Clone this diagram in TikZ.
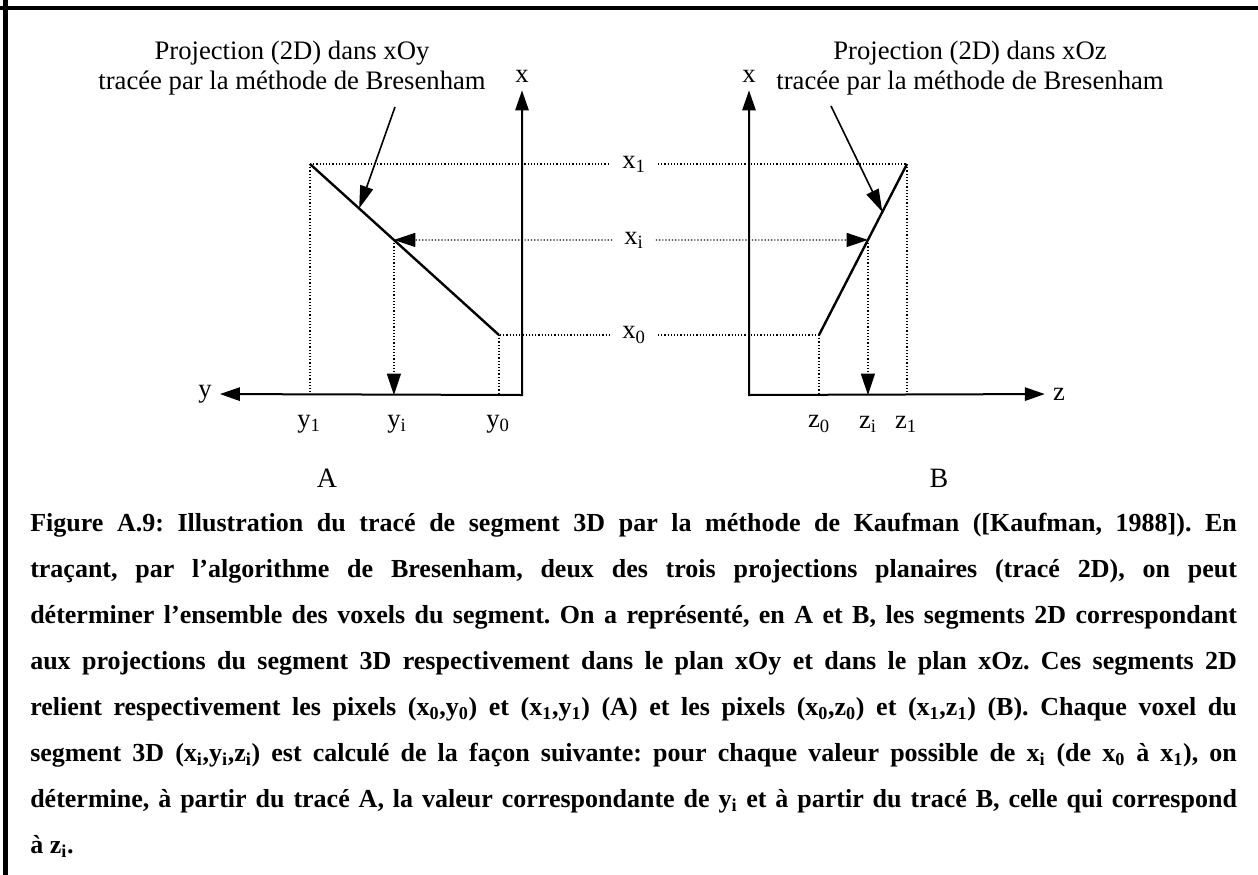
\documentclass[tikz,border=0pt]{standalone}
\usepackage{fontspec}
\setmainfont{Liberation Serif}
\usetikzlibrary{positioning,arrows.meta,calc}
\newcommand{\sbs}[1]{\textsubscript{#1}}
\newcommand{\jline}[1]{\makebox[905pt][s]{#1}}

\begin{document}
\begin{tikzpicture}[x=0.75pt,y=-0.75pt,
  axis/.style={line width=1.5pt,{Triangle[length=15pt,width=10pt]}-{Triangle[length=15pt,width=10pt]}},
  dots/.style={line width=0.9pt,dash pattern=on 0.9pt off 1.5pt},
  seg/.style={line width=1.8pt},
  note/.style={line width=1.2pt,-{Triangle[length=17pt,width=10pt]}},
  lbl/.style={font=\fontsize{20}{24}\selectfont,inner sep=0pt},
  axlbl/.style={font=\fontsize{20}{24}\selectfont,inner sep=6pt}]
\useasboundingbox (0,0) rectangle (1258,875);
% frame (top and left edges only)
\draw[line width=3pt] (0,7.5) -- (1258,7.5);
\draw[line width=4pt] (5.5,0) -- (5.5,875);

% panel A : plane xOy
\coordinate (OA) at (522,395);
\coordinate (P1A) at (310,164);
\coordinate (P0A) at (499,335);
\coordinate (PiA) at ($(P0A)!0.556!(P1A)$);
\node[axlbl] (xA) at (522,76) {x};
\node[axlbl] (yA) at (205,394) {y};
\draw[axis] (xA) -- (OA) -- (yA);
\draw[seg] (P0A) -- (P1A);

% panel B : plane xOz
\coordinate (OB) at (749,395);
\coordinate (P1B) at (907,164);
\coordinate (P0B) at (819,335);
\coordinate (PiB) at ($(P0B)!0.556!(P1B)$);
\node[axlbl] (xB) at (749,76) {x};
\node[axlbl] (zB) at (1059,394) {z};
\draw[axis] (xB) -- (OB) -- (zB);
\draw[seg] (P0B) -- (P1B);

% shared x levels
\node[lbl,inner xsep=9pt] (x1) at (634,164) {x\sbs{1}};
\node[lbl,inner xsep=9pt] (xi) at (634,240) {x\sbs{i}};
\node[lbl,inner xsep=9pt] (x0) at (634,335) {x\sbs{0}};
\draw[dots] (P1A) -- (x1.west);
\draw[dots] (x0.west) -- (P0A);
\draw[dots,-{Triangle[length=16pt,width=10.5pt]}] (xi.west) -- (PiA);
\draw[dots] (x1.east) -- (P1B);
\draw[dots] (x0.east) -- (P0B);
\draw[dots,-{Triangle[length=16pt,width=10.5pt]}] (xi.east) -- (PiB);

% projections on y and z
\draw[dots] (P1A) -- (P1A |- OA);
\draw[dots] (P0A) -- (P0A |- OA);
\draw[dots,-{Triangle[length=16pt,width=10.5pt]}] (PiA) -- (PiA |- OA);
\draw[dots] (P1B) -- (P1B |- OB);
\draw[dots] (P0B) -- (P0B |- OB);
\draw[dots,-{Triangle[length=16pt,width=10.5pt]}] (PiB) -- (PiB |- OB);
\node[lbl] (y1) at (309,424) {y\sbs{1}};
\node[lbl] (yi) at (397,424) {y\sbs{i}};
\node[lbl] (y0) at (498,424) {y\sbs{0}};
\node[lbl] (z0) at (819,424) {z\sbs{0}};
\node[lbl] (zi) at (868,424) {z\sbs{i}};
\node[lbl] (z1) at (906,424) {z\sbs{1}};

% notes
\node[lbl,align=center,font=\fontsize{20}{23}\selectfont] (projA) at (292,68)
  {Projection (2D) dans xOy\\tracée par la méthode de Bresenham};
\node[lbl,align=center,font=\fontsize{20}{23}\selectfont] (projB) at (970,68)
  {Projection (2D) dans xOz\\tracée par la méthode de Bresenham};
\coordinate (tA) at (395,107);
\coordinate (tB) at (831,106);
\draw[note] (tA) -- ($(P0A)!0.74!(P1A)$);
\draw[note] (tB) -- ($(P0B)!0.72!(P1B)$);

\node[lbl,font=\fontsize{21}{25}\selectfont] (labA) at (327,478) {A};
\node[lbl,font=\fontsize{21}{25}\selectfont] (labB) at (939,478) {B};

% caption
\node[lbl,anchor=north west,text width=905pt,align=justify,
  font=\fontsize{19.5}{34.5}\selectfont\bfseries\frenchspacing] (capt) at (30,513) {%
\jline{Figure A.9: Illustration du tracé de segment 3D par la méthode de Kaufman ([Kaufman, 1988]). En}\\
\jline{traçant, par l’algorithme de Bresenham, deux des trois projections planaires (tracé 2D), on peut}\\
\jline{déterminer l’ensemble des voxels du segment. On a représenté, en A et B, les segments 2D correspondant}\\
\jline{aux projections du segment 3D respectivement dans le plan xOy et dans le plan xOz. Ces segments 2D}\\
\jline{relient respectivement les pixels (x\sbs{0},y\sbs{0}) et (x\sbs{1},y\sbs{1}) (A) et les pixels (x\sbs{0},z\sbs{0}) et (x\sbs{1},z\sbs{1}) (B). Chaque voxel du}\\
\jline{segment 3D (x\sbs{i},y\sbs{i},z\sbs{i}) est calculé de la façon suivante: pour chaque valeur possible de x\sbs{i} (de x\sbs{0} à x\sbs{1}), on}\\
\jline{détermine, à partir du tracé A, la valeur correspondante de y\sbs{i} et à partir du tracé B, celle qui correspond}\\
à z\sbs{i}.};
\end{tikzpicture}
\end{document}
